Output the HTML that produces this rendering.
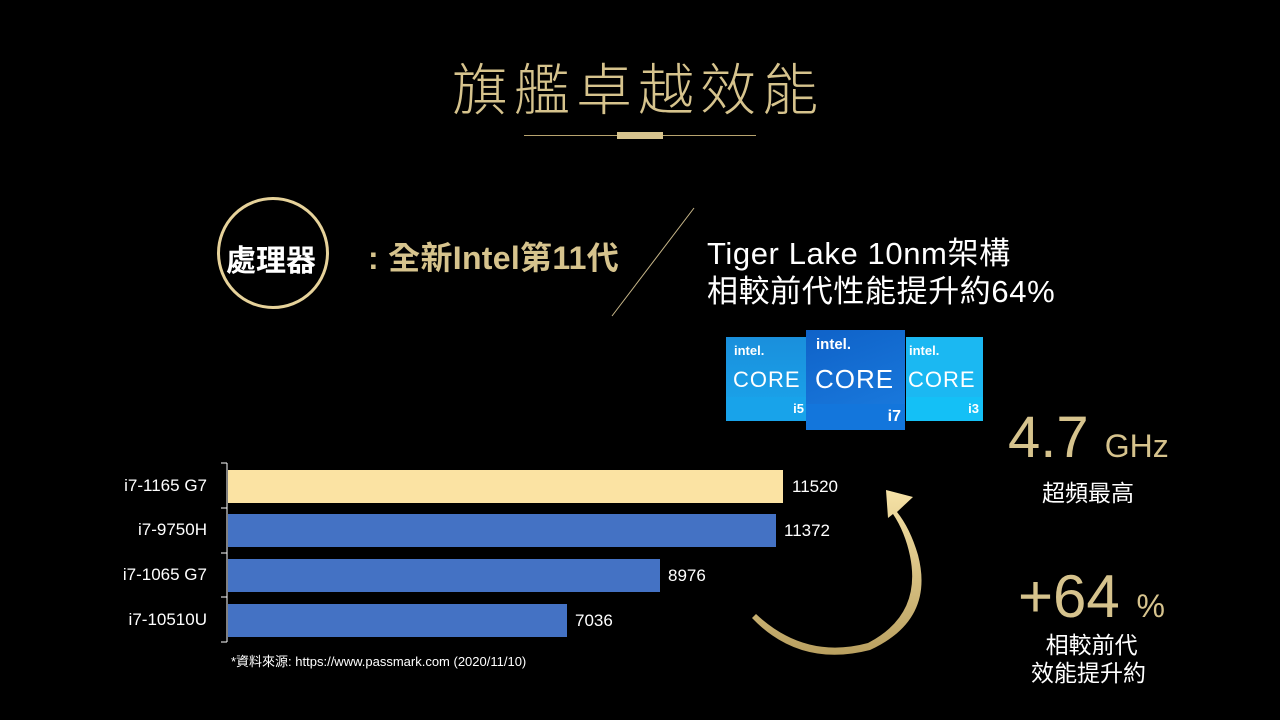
<!DOCTYPE html>
<html><head><meta charset="utf-8"><style>
body{margin:0;background:#000;width:1280px;height:720px;overflow:hidden;position:relative;font-family:"Liberation Sans","Noto Sans CJK TC",sans-serif}
.a{position:absolute;white-space:nowrap}
.g{color:#d6c38d}
.w{color:#fff}
.lbl{position:absolute;color:#fff;font-size:17px;text-align:right;width:110px;left:97px;font-family:"Liberation Sans","Noto Sans CJK TC",sans-serif}
.val{position:absolute;color:#fff;font-size:17px}
.bar{position:absolute;left:228px;height:33px}
.box{position:absolute;color:#fff}
</style></head><body>
<div class="a g" style="left:452px;top:46px;font-size:56px;letter-spacing:6px;font-family:'Noto Sans CJK TC',sans-serif;font-weight:300">旗艦卓越效能</div>
<div class="a" style="left:524px;top:135px;width:232px;height:1px;background:#b8a46f"></div>
<div class="a" style="left:617px;top:132px;width:46px;height:7px;background:#d6c38d"></div>

<div class="a" style="left:217px;top:197px;width:112px;height:112px;border:3px solid #e6d29a;border-radius:50%;box-sizing:border-box"></div>
<div class="a w" style="left:226px;top:236px;font-size:30px;font-weight:bold">處理器</div>
<div class="a g" style="left:368px;top:233px;font-size:32px;font-weight:bold;letter-spacing:0.3px">: 全新Intel第11代</div>
<svg class="a" style="left:0;top:0" width="1280" height="720">
<line x1="612" y1="316" x2="694" y2="208" stroke="#c9b88a" stroke-width="1"/>
<line x1="227" y1="463" x2="227" y2="642" stroke="#fff" stroke-width="1"/>
<g stroke="#fff"><line x1="221" y1="463" x2="227" y2="463"/><line x1="221" y1="508" x2="227" y2="508"/><line x1="221" y1="553" x2="227" y2="553"/><line x1="221" y1="597" x2="227" y2="597"/><line x1="221" y1="642" x2="227" y2="642"/></g>
<defs><linearGradient id="gr" x1="0" y1="1" x2="0" y2="0"><stop offset="0" stop-color="#b9a060"/><stop offset="1" stop-color="#f6e2a6"/></linearGradient></defs>
<path d="M752,618 Q800,668 870,650 Q935,620 918,555 Q910,528 897,512 L913,497 L886,490 L888,518 L893,514 Q905,532 910,556 Q922,615 868,643 Q805,660 756,614 Z" fill="url(#gr)"/>
</svg>
<div class="a w" style="left:707px;top:235px;font-size:31px;line-height:38px;letter-spacing:0.6px">Tiger Lake 10nm架構<br>相較前代性能提升約64%</div>

<div class="box" style="left:726px;top:337px;width:80px;height:84px;background:linear-gradient(180deg,#1a8fdc,#1aa6ec)"><div style="position:absolute;left:8px;top:6px;font-size:13px;font-weight:bold">intel.</div><div style="position:absolute;left:7px;top:30px;font-size:22px;letter-spacing:1px">CORE</div><div style="position:absolute;left:0;top:60px;width:80px;height:24px;background:#18a3ea"></div><div style="position:absolute;right:2px;top:64px;font-size:13px;font-weight:bold">i5</div></div>
<div class="box" style="left:906px;top:337px;width:77px;height:84px;background:#1bb8f2"><div style="position:absolute;left:3px;top:6px;font-size:13px;font-weight:bold">intel.</div><div style="position:absolute;left:2px;top:30px;font-size:22px;letter-spacing:1px">CORE</div><div style="position:absolute;left:0;top:60px;width:77px;height:24px;background:#14c0f6"></div><div style="position:absolute;right:4px;top:64px;font-size:13px;font-weight:bold">i3</div></div>
<div class="box" style="left:806px;top:330px;width:99px;height:100px;background:linear-gradient(160deg,#0f62c8,#1b7de0)"><div style="position:absolute;left:10px;top:6px;font-size:15px;font-weight:bold">intel.</div><div style="position:absolute;left:9px;top:34px;font-size:26px;letter-spacing:1px">CORE</div><div style="position:absolute;left:0;top:74px;width:99px;height:26px;background:#1376dc"></div><div style="position:absolute;right:4px;top:78px;font-size:16px;font-weight:bold">i7</div></div>

<div class="lbl" style="top:476px">i7-1165 G7</div>
<div class="lbl" style="top:520px">i7-9750H</div>
<div class="lbl" style="top:565px">i7-1065 G7</div>
<div class="lbl" style="top:610px">i7-10510U</div>
<div class="bar" style="top:470px;width:555px;background:#fbe3a3"></div>
<div class="bar" style="top:514px;width:548px;background:#4472c4"></div>
<div class="bar" style="top:559px;width:432px;background:#4472c4"></div>
<div class="bar" style="top:604px;width:339px;background:#4472c4"></div>
<div class="val" style="left:792px;top:477px">11520</div>
<div class="val" style="left:784px;top:521px">11372</div>
<div class="val" style="left:668px;top:566px">8976</div>
<div class="val" style="left:575px;top:611px">7036</div>
<div class="a w" style="left:231px;top:651px;font-size:13px">*資料來源: https://www.passmark.com (2020/11/10)</div>

<div class="a g" style="left:1008px;top:404px;font-size:58px;font-weight:300">4.7 <span style="font-size:32px">GHz</span></div>
<div class="a w" style="left:1042px;top:474px;font-size:23px">超頻最高</div>
<div class="a g" style="left:1018px;top:562px;font-size:60px;font-weight:300">+64 <span style="font-size:32px">%</span></div>
<div class="a w" style="left:1031px;top:631px;font-size:23px;line-height:28px;text-align:center">&nbsp;相較前代<br>效能提升約</div>
</body></html>
